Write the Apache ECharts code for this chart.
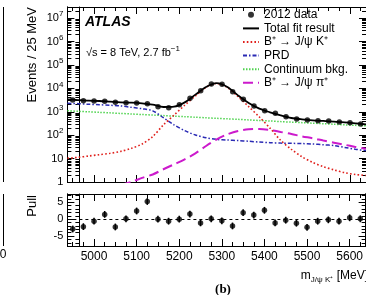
<!DOCTYPE html>
<html>
<head>
<meta charset="utf-8">
<script src="https://cdn.jsdelivr.net/npm/echarts@6/dist/echarts.min.js"></script>
<style>
  html, body { margin: 0; padding: 0; background: #fff; }
  #chart { width: 366px; height: 295px; }
</style>
</head>
<body>
<div id="chart"></div>
<script>
  // 25 MeV bins, 2012 data
  let binCenters = [4950, 4975, 5000, 5025, 5050, 5075, 5100, 5125, 5150, 5175, 5200, 5225, 5250, 5275,
    5300, 5325, 5350, 5375, 5400, 5425, 5450, 5475, 5500, 5525, 5550, 5575, 5600, 5625];
  let events = [3200, 2970, 2900, 2800, 2560, 2450, 2400, 2220, 1650, 1500, 2000, 3780, 7950, 15400,
    15000, 7200, 3400, 1770, 1110, 860, 620, 490, 445, 416, 405, 365, 340, 300];
  let pulls = [-2.9, -2.2, -0.6, 1.4, -2.3, 0.1, 2.4, 5.2, 0.0, -0.6, 0.0, 1.5, -1.1, 0.1,
    -0.5, -2.0, 1.9, 1.2, 2.6, -1.1, -0.3, -1.2, -2.4, -0.6, -0.2, -0.6, 0.4, 0.1];
  let pullErrors = [1, 1, 1, 1, 1, 1, 1, 1, 1, 1, 1, 1, 1, 1, 1, 1, 1, 1, 1, 1, 1, 1, 1, 1, 1, 1, 1, 1];

  // fit components, read at the bin edges
  let curveMass = [4937.5, 4962.5, 4987.5, 5012.5, 5037.5, 5062.5, 5087.5, 5112.5, 5137.5, 5162.5,
    5187.5, 5212.5, 5237.5, 5262.5, 5287.5, 5312.5, 5337.5, 5362.5, 5387.5, 5412.5, 5437.5,
    5462.5, 5487.5, 5512.5, 5537.5, 5562.5, 5587.5, 5612.5, 5637.5];
  let totalFit = [3410, 3180, 2990, 2890, 2700, 2520, 2450, 2290, 2010, 1600, 1660, 2520, 5400, 11500,
    16800, 11500, 5030, 2380, 1360, 950, 700, 543, 475, 432, 405, 380, 355, 322, 290];
  let sigJpsiK = [10.3, 11.3, 12.9, 14.7, 16.8, 20.4, 27.4, 42, 87, 275, 725, 1900, 4730, 11000,
    16200, 10800, 4450, 1660, 600, 200, 60, 25, 12, 6.9, 4.5, 3.3, 2.5, 2.1, 1.9];
  let prdBkg = [2290, 2230, 2090, 2000, 1900, 1780, 1550, 1350, 1100, 560, 275, 156, 102, 78,
    66, 62, 59, 55, 51, 48, 46, 45, 44, 42, 39, 36, 30, 25, 22];
  let continuumBkg = [1110, 1050, 1000, 945, 900, 850, 805, 765, 725, 690, 650, 620, 585, 555,
    525, 500, 475, 450, 425, 405, 380, 362, 344, 326, 310, 293, 277, 263, 250];
  let sigJpsiPi = [null, null, null, null, null, 0.75, 1.0, 1.5, 2.1, 3.5, 5.7, 9.3, 16.8, 34.5,
    66, 109, 151, 178, 184, 166, 137, 113, 89, 74, 59, 48, 39, 31.6, 26];

  // ticks and labels
  let massLabels = [5000, 5100, 5200, 5300, 5400, 5500, 5600];
  let massMinor = [];
  for (let m = 4950; m <= 5625; m += 25) massMinor.push(m);
  let countLabels = [1, 10, 100, 1e3, 1e4, 1e5, 1e6, 1e7];
  let countMinor = [];
  for (let e = 0; e <= 7; e++) {
    for (let d = 2; d <= 9; d++) {
      if (d * Math.pow(10, e) <= 3e7) countMinor.push(d * Math.pow(10, e));
    }
  }
  let pullLabels = [-5, 0, 5];
  let pullMinor = [-7, -6, -4, -3, -2, -1, 1, 2, 3, 4, 6, 7];
  let legendNames = ['2012 data', 'Total fit result', 'B⁺ → J/ψ K⁺', 'PRD', 'Continuum bkg.', 'B⁺ → J/ψ π⁺'];

  const FONT = 'Liberation Sans';
  const zip = (xs, ys) => xs.map((x, i) => [x, ys[i]]);

  function massAxis(grid, pos, ticks, len, labels) {
    return {
      type: 'value', gridIndex: grid, position: pos, min: 4937.5, max: 5637.5,
      axisLine: {show: true, onZero: false, lineStyle: {color: '#000', width: 1}},
      axisTick: {show: true, inside: true, length: len, customValues: ticks, lineStyle: {color: '#000', width: 1}},
      axisLabel: labels ? {
        show: true, customValues: massLabels, color: '#000', fontFamily: FONT, fontSize: 12, margin: 5,
        formatter: v => String(v)
      } : {show: false},
      splitLine: {show: false}
    };
  }

  function countAxis(grid, pos, ticks, len, labels) {
    return {
      type: 'log', logBase: 10, gridIndex: grid, position: pos, min: 1, max: 3e7,
      axisLine: {show: true, onZero: false, lineStyle: {color: '#000', width: 1}},
      axisTick: {show: true, inside: true, length: len, customValues: ticks, lineStyle: {color: '#000', width: 1}},
      axisLabel: labels ? {
        show: true, customValues: countLabels, color: '#000', fontFamily: FONT, fontSize: 11, margin: 4,
        lineHeight: 16,
        formatter: function (v) {
          let e = Math.round(Math.log10(v));
          if (e === 0) return '1';
          if (e === 1) return '10';
          return '10{s|' + e + '}';
        },
        rich: {s: {fontSize: 8, lineHeight: 8, verticalAlign: 'top', fontFamily: FONT, color: '#000'}}
      } : {show: false},
      splitLine: {show: false}
    };
  }

  function pullAxis(grid, pos, ticks, len, labels) {
    return {
      type: 'value', gridIndex: grid, position: pos, min: -7.9, max: 7.4,
      axisLine: {show: true, onZero: false, lineStyle: {color: '#000', width: 1}},
      axisTick: {show: true, inside: true, length: len, customValues: ticks, lineStyle: {color: '#000', width: 1}},
      axisLabel: labels ? {
        show: true, customValues: pullLabels, color: '#000', fontFamily: FONT, fontSize: 11, margin: 4,
        formatter: v => String(v)
      } : {show: false},
      splitLine: {show: false}
    };
  }

  let chart = echarts.init(document.getElementById('chart'), null, {renderer: 'canvas'});

  let option = {
    animation: false,
    backgroundColor: '#fff',
    grid: [
      {left: 67.4, top: 7, width: 303, height: 175},
      {left: 67.4, top: 194, width: 303, height: 52},
      {left: -300, top: 7, width: 303.5, height: 175},
      {left: -300, top: 194, width: 303.5, height: 52}
    ],
    xAxis: [
      massAxis(0, 'bottom', massLabels, 7, false),
      massAxis(0, 'bottom', massMinor, 4, false),
      massAxis(0, 'top', massLabels, 7, false),
      massAxis(0, 'top', massMinor, 4, false),
      massAxis(1, 'bottom', massLabels, 7, true),
      massAxis(1, 'bottom', massMinor, 4, false),
      massAxis(1, 'top', massLabels, 7, false),
      massAxis(1, 'top', massMinor, 4, false),
      {type: 'value', gridIndex: 2, show: false, min: 0, max: 1},
      {type: 'value', gridIndex: 3, show: false, min: 0, max: 1}
    ],
    yAxis: [
      countAxis(0, 'left', countLabels, 7, true),
      countAxis(0, 'left', countMinor, 4, false),
      countAxis(0, 'right', countLabels, 7, false),
      countAxis(0, 'right', countMinor, 4, false),
      pullAxis(1, 'left', pullLabels, 7, true),
      pullAxis(1, 'left', pullMinor, 4, false),
      pullAxis(1, 'right', pullLabels, 7, false),
      pullAxis(1, 'right', pullMinor, 4, false),
      countAxis(2, 'right', countMinor, 4, false),
      pullAxis(3, 'right', pullMinor, 4, false)
    ],
    legend: {
      left: 242, top: 8, orient: 'vertical', padding: 0, itemGap: 0,
      itemWidth: 16, itemHeight: 6, selectedMode: false,
      textStyle: {fontFamily: FONT, fontSize: 12, color: '#000', lineHeight: 13.6},
      data: legendNames.map((n, i) => i === 0 ? {name: n} : {name: n, itemStyle: {opacity: 0}})
    },
    series: [
      {
        name: 'Continuum bkg.', type: 'line', xAxisIndex: 0, yAxisIndex: 0,
        data: zip(curveMass, continuumBkg), symbol: 'none', smooth: 0.3,
        lineStyle: {color: '#4fd34f', width: 1.5, type: [1.5, 1.5]}, itemStyle: {color: '#4fd34f'}
      },
      {
        name: 'PRD', type: 'line', xAxisIndex: 0, yAxisIndex: 0,
        data: zip(curveMass, prdBkg), symbol: 'none', smooth: 0.3,
        lineStyle: {color: '#2a2ab4', width: 1.5, type: [4, 2, 1.5, 2]}, itemStyle: {color: '#2a2ab4'}
      },
      {
        name: 'B⁺ → J/ψ π⁺', type: 'line', xAxisIndex: 0, yAxisIndex: 0,
        data: zip(curveMass, sigJpsiPi), symbol: 'none', smooth: 0.3,
        lineStyle: {color: '#cc1acc', width: 2, type: [10, 5]}, itemStyle: {color: '#cc1acc'}
      },
      {
        name: 'B⁺ → J/ψ K⁺', type: 'line', xAxisIndex: 0, yAxisIndex: 0,
        data: zip(curveMass, sigJpsiK), symbol: 'none', smooth: 0.3,
        lineStyle: {color: '#e0201c', width: 1.6, type: [1.6, 2.2]}, itemStyle: {color: '#e0201c'}
      },
      {
        name: 'Total fit result', type: 'line', xAxisIndex: 0, yAxisIndex: 0,
        data: zip(curveMass, totalFit), symbol: 'none', smooth: 0.3,
        lineStyle: {color: '#000', width: 1.8}, itemStyle: {color: '#000'}
      },
      {
        name: '2012 data', type: 'scatter', xAxisIndex: 0, yAxisIndex: 0,
        data: zip(binCenters, events), symbol: 'circle', symbolSize: 5.5,
        itemStyle: {color: '#000'}, z: 5
      },
      {
        name: 'pull errors', type: 'custom', xAxisIndex: 4, yAxisIndex: 4,
        data: binCenters.map((m, i) => [m, pulls[i] - pullErrors[i], pulls[i] + pullErrors[i]]),
        renderItem: function (params, api) {
          let lo = api.coord([api.value(0), api.value(1)]);
          let hi = api.coord([api.value(0), api.value(2)]);
          return {
            type: 'line',
            shape: {x1: lo[0], y1: lo[1], x2: hi[0], y2: hi[1]},
            style: {stroke: '#000', lineWidth: 1.5}
          };
        }
      },
      {
        name: 'pull', type: 'scatter', xAxisIndex: 4, yAxisIndex: 4,
        data: zip(binCenters, pulls), symbol: 'circle', symbolSize: 5.5,
        itemStyle: {color: '#000'}, z: 5,
        markLine: {
          silent: true, symbol: ['none', 'none'], label: {show: false},
          lineStyle: {color: '#000', width: 1, type: [3, 3]},
          data: [{yAxis: 0}]
        }
      }
    ],
    graphic: [
      {
        type: 'text', x: 85, y: 22,
        style: {text: 'ATLAS', font: 'italic bold 14px ' + FONT, fill: '#000',
          align: 'left', verticalAlign: 'middle', textAlign: 'left', textVerticalAlign: 'middle'}
      },
      {
        type: 'text', x: 86, y: 53,
        style: {
          text: '{a|√s = 8 TeV, 2.7 fb}{s|−1}', fill: '#000', align: 'left', verticalAlign: 'middle',
          textAlign: 'left', textVerticalAlign: 'middle',
          rich: {
            a: {fontFamily: FONT, fontSize: 11, lineHeight: 16, fill: '#000'},
            s: {fontFamily: FONT, fontSize: 8, lineHeight: 8, verticalAlign: 'top', fill: '#000'}
          }
        }
      },
      {
        type: 'text', x: 32, y: 7, rotation: Math.PI / 2,
        style: {text: 'Events / 25 MeV', font: '13px ' + FONT, fill: '#000',
          align: 'right', verticalAlign: 'middle', textAlign: 'right', textVerticalAlign: 'middle'}
      },
      {
        type: 'text', x: 32, y: 195, rotation: Math.PI / 2,
        style: {text: 'Pull', font: '13px ' + FONT, fill: '#000',
          align: 'right', verticalAlign: 'middle', textAlign: 'right', textVerticalAlign: 'middle'}
      },
      {
        type: 'text', x: 368, y: 276,
        style: {
          text: '{m|m}{sub|J/ψ K⁺}{m| [MeV]}', fill: '#000', align: 'right', verticalAlign: 'middle',
          textAlign: 'right', textVerticalAlign: 'middle',
          rich: {
            m: {fontFamily: FONT, fontSize: 12, lineHeight: 16, fill: '#000'},
            sub: {fontFamily: FONT, fontSize: 8, lineHeight: 8, verticalAlign: 'bottom', fill: '#000'}
          }
        }
      },
      {
        type: 'text', x: 223, y: 290,
        style: {text: '(b)', font: 'bold 13px Liberation Serif', fill: '#000',
          align: 'center', verticalAlign: 'middle', textAlign: 'center', textVerticalAlign: 'middle'}
      },
      {
        type: 'text', x: 6.5, y: 255,
        style: {text: '5600', font: '12px ' + FONT, fill: '#000',
          align: 'right', verticalAlign: 'middle', textAlign: 'right', textVerticalAlign: 'middle'}
      },
      // right border of the neighbouring panel (a)
      {type: 'line', shape: {x1: 3.5, y1: 7, x2: 3.5, y2: 182}, style: {stroke: '#000', lineWidth: 1}},
      {type: 'line', shape: {x1: 3.5, y1: 194, x2: 3.5, y2: 246}, style: {stroke: '#000', lineWidth: 1}}
    ]
  };

  chart.setOption(option);
</script>
</body>
</html>
